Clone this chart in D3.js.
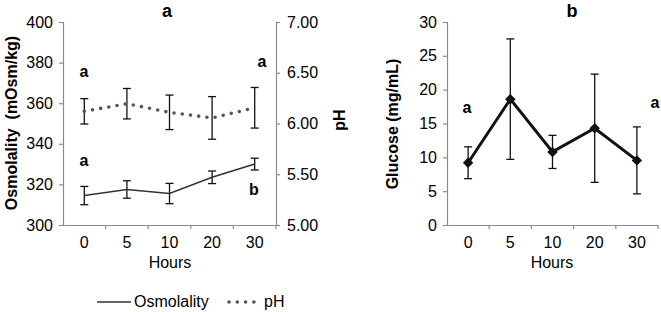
<!DOCTYPE html>
<html><head><meta charset="utf-8">
<script src="https://cdnjs.cloudflare.com/ajax/libs/d3/7.8.5/d3.min.js"></script>
<style>
body{margin:0;background:#fff;}
svg{font-family:"Liberation Sans",Arial,sans-serif;}
</style></head>
<body><svg id="c" width="661" height="312"></svg>
<script>
const hours = ["0","5","10","20","30"];
const osmolality = [314.5, 317.5, 315.5, 323.5, 330];
const osmolalityErr = [4.5, 4.3, 5, 3.1, 2.9];
const pH = [6.12, 6.195, 6.11, 6.055, 6.155];
const pHErr = [0.125, 0.15, 0.17, 0.21, 0.2];
const glucose = [9.2, 18.6, 10.8, 14.3, 9.55];
const glucoseErr = [2.35, 8.9, 2.45, 8.0, 4.95];
const osmTicks = [300, 320, 340, 360, 380, 400];
const pHTicks = [5.0, 5.5, 6.0, 6.5, 7.0];
const gluTicks = [0, 5, 10, 15, 20, 25, 30];

const svg = d3.select("#c");
const axisCol = "#8c8c8c";
const yTop = 22, yBottom = 225;

function styleAxis(g){
  g.select(".domain").attr("stroke", axisCol).attr("stroke-width",1.2);
  g.selectAll(".tick line").attr("stroke", axisCol).attr("stroke-width",1.2);
  g.selectAll(".tick text").attr("fill","#000").style("font-size","16px");
}

function errBars(g, x, y, vals, errs, cap){
  vals.forEach((v,i)=>{
    const cx = x(hours[i]) + x.bandwidth()/2;
    const y1 = y(v+errs[i]), y2 = y(v-errs[i]);
    g.append("line").attr("x1",cx).attr("x2",cx).attr("y1",y1).attr("y2",y2).attr("stroke","#111").attr("stroke-width",1.3);
    [y1,y2].forEach(yy=>g.append("line").attr("x1",cx-cap).attr("x2",cx+cap).attr("y1",yy).attr("y2",yy).attr("stroke","#111").attr("stroke-width",1.3));
  });
}

// ---- Chart a ----
const xa = d3.scaleBand().domain(hours).range([63, 276]);
const yOsm = d3.scaleLinear().domain([300,400]).range([yBottom, yTop]);
const ypH = d3.scaleLinear().domain([5,7]).range([yBottom, yTop]);

const gxa = svg.append("g").attr("transform",`translate(0,${yBottom})`)
  .call(d3.axisBottom(xa).tickSize(0).tickPadding(12));
styleAxis(gxa);
xa.domain().forEach((d,i)=>{ if(i>0) gxa.append("line").attr("x1",xa(d)).attr("x2",xa(d)).attr("y1",0).attr("y2",4).attr("stroke",axisCol).attr("stroke-width",1.2); });
gxa.append("line").attr("x1",xa.range()[1]).attr("x2",xa.range()[1]).attr("y1",0).attr("y2",4).attr("stroke",axisCol).attr("stroke-width",1.2);

const gyl = svg.append("g").attr("transform","translate(63,0)")
  .call(d3.axisLeft(yOsm).tickValues(osmTicks).tickSize(4).tickPadding(6).tickFormat(d3.format("d")));
styleAxis(gyl);
const gyr = svg.append("g").attr("transform","translate(276,0)")
  .call(d3.axisRight(ypH).tickValues(pHTicks).tickSize(4).tickPadding(7).tickFormat(d3.format(".2f")));
styleAxis(gyr);

const ga = svg.append("g");
errBars(ga, xa, yOsm, osmolality, osmolalityErr, 4);
errBars(ga, xa, ypH, pH, pHErr, 4);
ga.append("path").datum(osmolality)
  .attr("d", d3.line().x((d,i)=>xa(hours[i])+xa.bandwidth()/2).y(d=>yOsm(d)))
  .attr("fill","none").attr("stroke","#333").attr("stroke-width",1.6);
ga.append("path").datum(pH)
  .attr("d", d3.line().x((d,i)=>xa(hours[i])+xa.bandwidth()/2).y(d=>ypH(d)))
  .attr("fill","none").attr("stroke","#555").attr("stroke-width",3.6)
  .attr("stroke-linecap","round").attr("stroke-dasharray","0,8.3");

svg.append("text").attr("x",167).attr("y",17).attr("text-anchor","middle").attr("font-weight","bold").style("font-size","18px").text("a");
svg.append("text").attr("x",170).attr("y",268).attr("text-anchor","middle").style("font-size","16px").text("Hours");
svg.append("text").attr("transform","translate(17,123) rotate(-90)").attr("text-anchor","middle").attr("font-weight","bold").style("font-size","16px").attr("xml:space","preserve").text("Osmolality  (mOsm/kg)");
svg.append("text").attr("transform","translate(345,120) rotate(-90)").attr("text-anchor","middle").attr("font-weight","bold").style("font-size","16px").text("pH");

const lettersA = [[84,77,"a"],[262,67,"a"],[84,166,"a"],[254,195,"b"]];
lettersA.forEach(l=>svg.append("text").attr("x",l[0]).attr("y",l[1]).attr("text-anchor","middle").attr("font-weight","bold").style("font-size","16px").text(l[2]));

// legend
svg.append("line").attr("x1",97).attr("x2",131).attr("y1",302).attr("y2",302).attr("stroke","#333").attr("stroke-width",1.6);
svg.append("text").attr("x",134).attr("y",307).style("font-size","16px").text("Osmolality");
svg.append("line").attr("x1",229).attr("x2",255).attr("y1",302).attr("y2",302).attr("stroke","#555").attr("stroke-width",3.6).attr("stroke-linecap","round").attr("stroke-dasharray","0,8.3");
svg.append("text").attr("x",264).attr("y",307).style("font-size","16px").text("pH");

// ---- Chart b ----
const xb = d3.scaleBand().domain(hours).range([447, 658]);
const yGlu = d3.scaleLinear().domain([0,30]).range([yBottom, yTop]);
const gxb = svg.append("g").attr("transform",`translate(0,${yBottom})`)
  .call(d3.axisBottom(xb).tickSize(0).tickPadding(12));
styleAxis(gxb);
xb.domain().forEach((d,i)=>{ if(i>0) gxb.append("line").attr("x1",xb(d)).attr("x2",xb(d)).attr("y1",0).attr("y2",4).attr("stroke",axisCol).attr("stroke-width",1.2); });
gxb.append("line").attr("x1",xb.range()[1]).attr("x2",xb.range()[1]).attr("y1",0).attr("y2",4).attr("stroke",axisCol).attr("stroke-width",1.2);
const gyb = svg.append("g").attr("transform","translate(447,0)")
  .call(d3.axisLeft(yGlu).tickValues(gluTicks).tickSize(4).tickPadding(6));
styleAxis(gyb);

const gb = svg.append("g");
errBars(gb, xb, yGlu, glucose, glucoseErr, 4);
gb.append("path").datum(glucose)
  .attr("d", d3.line().x((d,i)=>xb(hours[i])+xb.bandwidth()/2).y(d=>yGlu(d)))
  .attr("fill","none").attr("stroke","#111").attr("stroke-width",3);
gb.selectAll("path.m").data(glucose).enter().append("path")
  .attr("d", d3.symbol().type(d3.symbolDiamond2).size(70))
  .attr("transform",(d,i)=>`translate(${xb(hours[i])+xb.bandwidth()/2},${yGlu(d)})`)
  .attr("fill","#111");

svg.append("text").attr("x",572).attr("y",17).attr("text-anchor","middle").attr("font-weight","bold").style("font-size","18px").text("b");
svg.append("text").attr("x",552).attr("y",268).attr("text-anchor","middle").style("font-size","16px").text("Hours");
svg.append("text").attr("transform","translate(398,124) rotate(-90)").attr("text-anchor","middle").attr("font-weight","bold").style("font-size","16px").text("Glucose (mg/mL)");
[[467,113,"a"],[655,108,"a"]].forEach(l=>svg.append("text").attr("x",l[0]).attr("y",l[1]).attr("text-anchor","middle").attr("font-weight","bold").style("font-size","16px").text(l[2]));
</script></body></html>
